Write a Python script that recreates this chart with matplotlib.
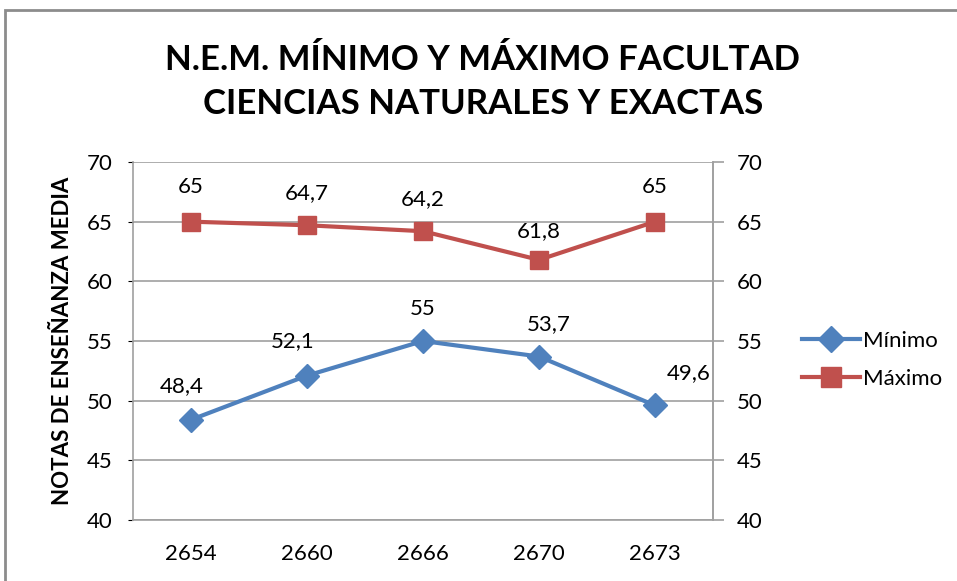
import matplotlib.pyplot as plt
from matplotlib.patches import Rectangle

categories = ['2654', '2660', '2666', '2670', '2673']
minimo = [48.4, 52.1, 55, 53.7, 49.6]
maximo = [65, 64.7, 64.2, 61.8, 65]
y_ticks = [40, 45, 50, 55, 60, 65, 70]

# label offsets (points) as placed in the original chart
min_offsets = [(-7, 24), (-10, 25), (0, 23), (7, 23), (24, 23)]
max_offsets = [(0, 25), (0, 23), (0, 23), (0, 21), (0, 25)]

BLUE = '#4F81BD'
RED = '#C0504D'
GRAY = '#A0A0A0'

plt.rcParams['font.family'] = ['Lato', 'DejaVu Sans']

fig = plt.figure(figsize=(9.57, 5.81), dpi=100)
ax = fig.add_axes([133 / 957, 1 - 520 / 581, 580 / 957, 358 / 581])

x = list(range(len(categories)))
ax.plot(x, minimo, color=BLUE, lw=3, marker='D', ms=12, label='Mínimo', zorder=3)
ax.plot(x, maximo, color=RED, lw=3, marker='s', ms=13, label='Máximo', zorder=3)

for i, v in enumerate(minimo):
    ax.annotate(f'{v:g}'.replace('.', ','), (i, v), xytext=min_offsets[i],
                textcoords='offset points', ha='center', va='center', fontsize=16)
for i, v in enumerate(maximo):
    ax.annotate(f'{v:g}'.replace('.', ','), (i, v), xytext=max_offsets[i],
                textcoords='offset points', ha='center', va='center', fontsize=16)

ax.set_xlim(-0.5, len(categories) - 0.5)
ax.set_ylim(40, 70)
ax.set_yticks(y_ticks)
ax.set_xticks(x)
ax.set_xticklabels(categories)
ax.grid(axis='y', color=GRAY, lw=1.2)
ax.set_axisbelow(True)
for side in ['left', 'right', 'bottom']:
    ax.spines[side].set_color(GRAY)
    ax.spines[side].set_linewidth(1.2)
ax.spines['top'].set_visible(False)
ax.tick_params(axis='y', left=False, labelsize=16, pad=11)
ax.tick_params(axis='x', bottom=False, labelsize=16, pad=14)

ax2 = ax.twinx()
ax2.set_ylim(40, 70)
ax2.set_yticks(y_ticks)
ax2.spines['top'].set_visible(False)
ax2.spines['left'].set_visible(False)
ax2.spines['bottom'].set_visible(False)
ax2.spines['right'].set_color(GRAY)
ax2.spines['right'].set_linewidth(1.2)
ax2.tick_params(axis='y', length=8, width=1.2, color=GRAY, labelsize=16, pad=9)

ax.set_ylabel('NOTAS DE ENSEÑANZA MEDIA', fontsize=16, fontweight='bold', labelpad=10)

fig.text(483 / 957, 1 - 82 / 581, 'N.E.M. MÍNIMO Y MÁXIMO FACULTAD\nCIENCIAS NATURALES Y EXACTAS',
         ha='center', va='center', fontsize=25, fontweight='bold', linespacing=1.45)

fig.legend(loc='center left', bbox_to_anchor=(782 / 957, 1 - 360 / 581), frameon=False,
           fontsize=16, handlelength=2.6, handletextpad=0.15, labelspacing=0.8,
           markerscale=1.1)

fig.patches.append(Rectangle((5 / 957, -0.05), 1.0, 1 - 10 / 581 + 0.05,
                             transform=fig.transFigure, fill=False,
                             edgecolor='#8C8C8C', lw=2))

fig.savefig('out.png', dpi=100)
